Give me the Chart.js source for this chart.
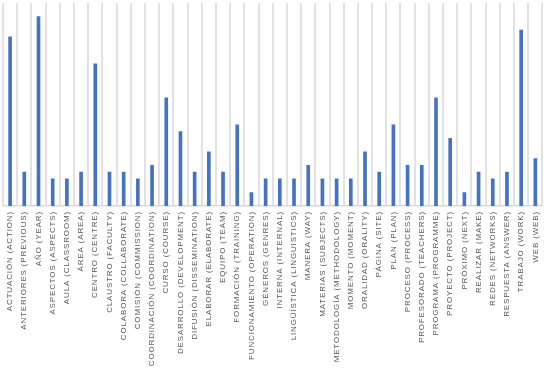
<!DOCTYPE html>
<html>
<head>
<meta charset="utf-8">
<script src="https://cdn.jsdelivr.net/npm/chart.js@4"></script>
<style>
  html, body { margin: 0; padding: 0; background: #fff; }
  #wrap { width: 550px; height: 370px; }
</style>
</head>
<body>
<div id="wrap"><canvas id="termsChart"></canvas></div>
<script>
const TERMS = [
    "ACTUACIÓN (ACTION)", "ANTERIORES (PREVIOUS)", "AÑO (YEAR)", "ASPECTOS (ASPECTS)",
    "AULA (CLASSROOM)", "ÁREA (AREA)", "CENTRO (CENTRE)", "CLAUSTRO (FACULTY)",
    "COLABORA (COLLABORATE)", "COMISIÓN (COMMISSION)", "COORDINACIÓN (COORDINATION)",
    "CURSO (COURSE)", "DESARROLLO (DEVELOPMENT)", "DIFUSIÓN (DISSEMINATION)",
    "ELABORAR (ELABORATE)", "EQUIPO (TEAM)", "FORMACIÓN (TRAINING)",
    "FUNCIONAMIENTO (OPERATION)", "GÉNEROS (GENRES)", "INTERNA (INTERNAL)",
    "LINGÜÍSTICA (LINGUISTICS)", "MANERA (WAY)", "MATERIAS (SUBJECTS)",
    "METODOLOGÍA (METHODOLOGY)", "MOMENTO (MOMENT)", "ORALIDAD (ORALITY)",
    "PÁGINA (SITE)", "PLAN (PLAN)", "PROCESO (PROCESS)", "PROFESORADO (TEACHERS)",
    "PROGRAMA (PROGRAMME)", "PROYECTO (PROJECT)", "PRÓXIMO (NEXT)", "REALIZAR (MAKE)",
    "REDES (NETWORKS)", "RESPUESTA (ANSWER)", "TRABAJO (WORK)", "WEB (WEB)"
];

const FREQUENCIES = [
    25, 5, 28, 4, 4, 5, 21, 5, 5, 4, 6, 16, 11, 5, 8, 5, 12, 2, 4,
    4, 4, 6, 4, 4, 4, 8, 5, 12, 6, 6, 16, 10, 2, 5, 4, 5, 26, 7
];

const Y_MAX = 30;

// canvas letter spacing for the tick labels
const letterSpacingPlugin = {
    id: "letterSpacing",
    beforeDraw: (chart) => { chart.ctx.letterSpacing = "0.85px"; }
};

const ctx = document.getElementById("termsChart").getContext("2d");

new Chart(ctx, {
    type: "bar",
    data: {
        labels: TERMS,
        datasets: [{
            data: FREQUENCIES,
            backgroundColor: "#4472C4",
            barThickness: 3
        }]
    },
    options: {
        responsive: true,
        maintainAspectRatio: false,
        animation: false,
        layout: { padding: { left: 3, right: 3, top: 3, bottom: 0 } },
        scales: {
            x: {
                grid: {
                    color: "#e2e2e2",
                    lineWidth: 2,
                    drawTicks: false,
                    offset: true
                },
                border: { display: true, color: "#d9d9d9", width: 1.5 },
                ticks: {
                    autoSkip: false,
                    minRotation: 90,
                    maxRotation: 90,
                    padding: 5,
                    color: "#595959",
                    font: { family: "Liberation Sans", size: 8 }
                },
                afterFit: (scale) => { scale.height = 164; }
            },
            y: {
                display: false,
                min: 0,
                max: Y_MAX
            }
        },
        plugins: {
            legend: { display: false },
            tooltip: { enabled: false }
        }
    },
    plugins: [letterSpacingPlugin]
});
</script>
</body>
</html>
